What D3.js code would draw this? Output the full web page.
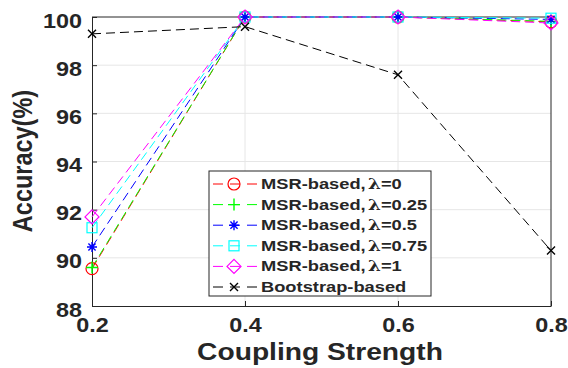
<!DOCTYPE html>
<html>
<head>
<meta charset="utf-8">
<script src="https://cdn.jsdelivr.net/npm/d3@7"></script>
<style>
  body { margin: 0; background: #fff; }
  svg text { font-family: "Liberation Sans", Arial, sans-serif; font-weight: bold; fill: #262626; }
</style>
</head>
<body>
<svg id="chart"></svg>
<script>
// data
const couplings = [0.2, 0.4, 0.6, 0.8];
const msr0 = [89.55, 100, 100, 99.8];
const msr025 = [89.6, 100, 100, 99.82];
const msr05 = [90.45, 100, 100, 99.9];
const msr075 = [91.25, 100, 100, 99.95];
const msr1 = [91.7, 100, 100, 99.75];
const bootstrap = [99.3, 99.6, 97.6, 90.3];
const yTicks = [88, 90, 92, 94, 96, 98, 100];
const xTicks = [0.2, 0.4, 0.6, 0.8];

const series = [
  { name: "MSR-based,", lam: "0", values: msr0, color: "#ff0000", marker: "circle" },
  { name: "MSR-based,", lam: "0.25", values: msr025, color: "#00ff00", marker: "plus" },
  { name: "MSR-based,", lam: "0.5", values: msr05, color: "#0000ff", marker: "star" },
  { name: "MSR-based,", lam: "0.75", values: msr075, color: "#00ffff", marker: "square" },
  { name: "MSR-based,", lam: "1", values: msr1, color: "#ff00ff", marker: "diamond" },
  { name: "Bootstrap-based", lam: null, values: bootstrap, color: "#000000", marker: "cross" }
];

const width = 568, height = 368;
const margin = { top: 17, right: 17, bottom: 62, left: 92 };
const svg = d3.select("#chart").attr("width", width).attr("height", height);

const x = d3.scaleLinear().domain([0.2, 0.8]).range([margin.left, width - margin.right]);
const y = d3.scaleLinear().domain([88, 100]).range([height - margin.bottom, margin.top]);

// 文字横向拉伸
function stretchX(sel, k) {
  sel.each(function() {
    const t = d3.select(this);
    const tx = +t.attr("x") || 0, ty = +t.attr("y") || 0;
    t.attr("transform", `translate(${tx},${ty}) scale(${k},1) translate(${-tx},${-ty})`);
  });
}

// 网格
svg.append("g").selectAll("line")
  .data(xTicks.slice(1, -1)).join("line")
  .attr("x1", d => x(d)).attr("x2", d => x(d))
  .attr("y1", y(88)).attr("y2", y(100))
  .attr("stroke", "#e6e6e6").attr("stroke-width", 1);
svg.append("g").selectAll("line")
  .data(yTicks.slice(1, -1)).join("line")
  .attr("x1", x(0.2)).attr("x2", x(0.8))
  .attr("y1", d => y(d)).attr("y2", d => y(d))
  .attr("stroke", "#e6e6e6").attr("stroke-width", 1);

// 坐标轴
const xAxis = svg.append("g")
  .attr("transform", `translate(0,${y(88)})`)
  .call(d3.axisBottom(x).tickValues(xTicks).tickFormat(d3.format(".1f")).tickSizeInner(-5).tickSizeOuter(0));
const yAxis = svg.append("g")
  .attr("transform", `translate(${x(0.2)},0)`)
  .call(d3.axisLeft(y).tickValues(yTicks).tickSizeInner(-5).tickSizeOuter(0));
[xAxis, yAxis].forEach(a => {
  a.select(".domain").attr("stroke", "#262626");
  a.selectAll(".tick line").attr("stroke", "#262626");
  a.selectAll(".tick text").style("font-size", "20px").attr("fill", "#262626");
});
xAxis.selectAll(".tick text").attr("dy", "0.71em").attr("y", 12);
yAxis.selectAll(".tick text").attr("x", -10).attr("dy", "0.35em").attr("y", 3);
stretchX(xAxis.selectAll(".tick text"), 1.17);
stretchX(yAxis.selectAll(".tick text"), 1.17);

// 上、右边框
svg.append("line").attr("x1", x(0.2)).attr("x2", x(0.8)).attr("y1", y(100)).attr("y2", y(100))
  .attr("stroke", "#262626");
svg.append("line").attr("x1", x(0.8)).attr("x2", x(0.8)).attr("y1", y(100)).attr("y2", y(88))
  .attr("stroke", "#262626");

// 标题
const xTitle = svg.append("text")
  .attr("x", 320).attr("y", 360)
  .attr("text-anchor", "middle").style("font-size", "23.5px")
  .text("Coupling Strength");
stretchX(xTitle, 1.2);
svg.append("text")
  .attr("transform", `translate(23,161) scale(1.15,1) rotate(-90)`)
  .attr("dy", "0.35em")
  .attr("text-anchor", "middle").style("font-size", "23.5px")
  .text("Accuracy(%)");

// 标记
function drawMarker(g, type, color) {
  const s = 5;
  if (type === "circle") {
    g.append("circle").attr("r", s + 1).attr("fill", "none").attr("stroke", color).attr("stroke-width", 1.2);
  } else if (type === "plus") {
    g.append("path").attr("d", `M${-s - 1},0H${s + 1}M0,${-s - 1}V${s + 1}`).attr("stroke", color).attr("stroke-width", 1.4);
  } else if (type === "star") {
    const r = s;
    const k = r * 0.72;
    const d = `M${-r},0H${r}M0,${-r}V${r}M${-k},${-k}L${k},${k}M${-k},${k}L${k},${-k}`;
    g.append("path").attr("d", d).attr("stroke", color).attr("stroke-width", 1.4);
  } else if (type === "square") {
    g.append("rect").attr("x", -s).attr("y", -s).attr("width", 2 * s).attr("height", 2 * s)
      .attr("fill", "none").attr("stroke", color).attr("stroke-width", 1.2);
  } else if (type === "diamond") {
    g.append("path").attr("d", `M0,${-s - 2}L${s + 2},0L0,${s + 2}L${-s - 2},0Z`)
      .attr("fill", "none").attr("stroke", color).attr("stroke-width", 1.2);
  } else if (type === "cross") {
    const k = 4;
    g.append("path").attr("d", `M${-k},${-k}L${k},${k}M${-k},${k}L${k},${-k}`)
      .attr("stroke", color).attr("stroke-width", 1.4);
  }
}

const line = d3.line().x((d, i) => x(couplings[i])).y(d => y(d));

series.forEach(s => {
  svg.append("path")
    .datum(s.values)
    .attr("d", line)
    .attr("fill", "none")
    .attr("stroke", s.color)
    .attr("stroke-width", 1)
    .attr("stroke-dasharray", "9,5");
});
series.forEach(s => {
  s.values.forEach((v, i) => {
    const g = svg.append("g").attr("transform", `translate(${x(couplings[i])},${y(v)})`);
    drawMarker(g, s.marker, s.color);
  });
});

// 图例
const lg = svg.append("g").attr("transform", "translate(209,171)");
lg.append("rect").attr("width", 222).attr("height", 125)
  .attr("fill", "#fff").attr("stroke", "#262626").attr("stroke-width", 1);
series.forEach((s, i) => {
  const row = lg.append("g").attr("transform", `translate(0,${13 + i * 20.6})`);
  row.append("line").attr("x1", 4).attr("x2", 48).attr("y1", 0).attr("y2", 0)
    .attr("stroke", s.color).attr("stroke-dasharray", "10,7");
  drawMarker(row.append("g").attr("transform", "translate(25,0)"), s.marker, s.color);
  const t = row.append("text").attr("x", 52).attr("y", 5).style("font-size", "15px").attr("fill", "#000");
  if (s.lam === null) {
    t.text(s.name);
  } else {
    t.append("tspan").text(s.name);
    t.append("tspan").attr("dx", 2).style("font-family", "'DejaVu Serif', serif").text("λ");
    t.append("tspan").text("=" + s.lam);
  }
  stretchX(t, 1.22);
});
</script>
</body>
</html>
